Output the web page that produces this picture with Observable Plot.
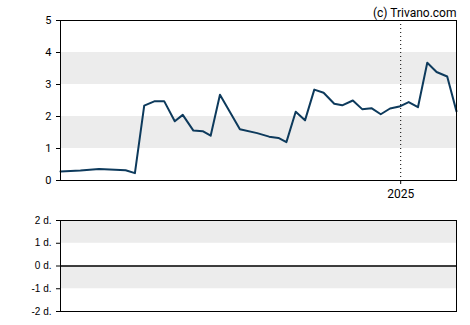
<!DOCTYPE html>
<html>
<head>
<meta charset="utf-8">
<script src="https://cdn.jsdelivr.net/npm/d3@7"></script>
<script src="https://cdn.jsdelivr.net/npm/@observablehq/plot@0.6"></script>
<style>
  body { margin: 0; background: #fff; }
  #chart svg { display: block; }
</style>
</head>
<body>
<div id="chart"></div>
<script>
const dates = [
  "2024-04-20","2024-05-05","2024-05-19","2024-06-08","2024-06-15","2024-06-22",
  "2024-06-30","2024-07-07","2024-07-15","2024-07-21","2024-07-29","2024-08-05",
  "2024-08-11","2024-08-18","2024-09-02","2024-09-15","2024-09-24","2024-10-01",
  "2024-10-07","2024-10-14","2024-10-21","2024-10-28","2024-11-04","2024-11-12",
  "2024-11-18","2024-11-26","2024-12-03","2024-12-10","2024-12-17","2024-12-24",
  "2024-12-31","2025-01-07","2025-01-14","2025-01-21","2025-01-28","2025-02-05",
  "2025-02-12"
];
const prices = [
  0.28, 0.31, 0.36, 0.32, 0.23, 2.34,
  2.48, 2.48, 1.85, 2.05, 1.56, 1.54,
  1.40, 2.68, 1.60, 1.48, 1.37, 1.33,
  1.20, 2.15, 1.88, 2.84, 2.74, 2.40,
  2.35, 2.50, 2.23, 2.26, 2.07, 2.25,
  2.31, 2.45, 2.29, 3.68, 3.39, 3.25,
  2.16
];
const xDomain = ["2024-04-20", "2025-02-12"];
const yearTicks = ["2025-01-01"];
const priceTicks = [0, 1, 2, 3, 4, 5];
const priceBandLow = [1, 3];
const priceBandHigh = [2, 4];
const lowerTicks = [-2, -1, 0, 1, 2];
const lowerBandLow = [1, -1];
const lowerBandHigh = [2, 0];
const credit = "(c) Trivano.com";

const series = dates.map((d, i) => ({date: new Date(d), value: prices[i]}));
const bandsTop = priceBandLow.map((lo, i) => ({y1: lo, y2: priceBandHigh[i]}));
const bandsLow = lowerBandLow.map((lo, i) => ({y1: lo, y2: lowerBandHigh[i]}));
const yearDates = yearTicks.map(d => new Date(d));

const priceChart = Plot.plot({
  width: 470, height: 200,
  marginLeft: 60, marginRight: 14, marginTop: 20, marginBottom: 20,
  style: {fontFamily: "Roboto, sans-serif", fontSize: "11px", color: "#000", background: "#fff"},
  x: {type: "utc", domain: xDomain.map(d => new Date(d)), label: null},
  y: {domain: [0, 5], label: null},
  marks: [
    Plot.rectY(bandsTop, {y1: "y1", y2: "y2", fill: "#ececec"}),
    Plot.ruleX(yearDates, {stroke: "#000", strokeDasharray: "1,3"}),
    Plot.line(series, {x: "date", y: "value", stroke: "#0d3a5c", strokeWidth: 2, curve: "linear"}),
    Plot.frame({stroke: "#000", strokeWidth: 1}),
    Plot.axisY({ticks: priceTicks, tickFormat: d => String(d), tickSize: 4, fontSize: 11, label: null}),
    Plot.axisX({ticks: yearDates, tickFormat: d3.utcFormat("%Y"), tickSize: 4, fontSize: 12, label: null}),
    Plot.text([credit], {frameAnchor: "top-right", dy: -12, fontSize: 12, fill: "#000"})
  ]
});

const lowerChart = Plot.plot({
  width: 470, height: 125,
  marginLeft: 60, marginRight: 14, marginTop: 20, marginBottom: 14,
  style: {fontFamily: "'Liberation Sans', Arial, sans-serif", fontSize: "10px", color: "#000", background: "#fff"},
  x: {domain: [0, 1], axis: null},
  y: {domain: [-2, 2], label: null},
  marks: [
    Plot.rectY(bandsLow, {y1: "y1", y2: "y2", fill: "#ececec"}),
    Plot.ruleY([0], {stroke: "#000", strokeWidth: 1.5}),
    Plot.frame({stroke: "#000", strokeWidth: 1}),
    Plot.axisY({ticks: lowerTicks, tickSize: 4, tickFormat: d => d + " d.", label: null})
  ]
});

document.getElementById("chart").append(priceChart, lowerChart);
</script>
</body>
</html>
